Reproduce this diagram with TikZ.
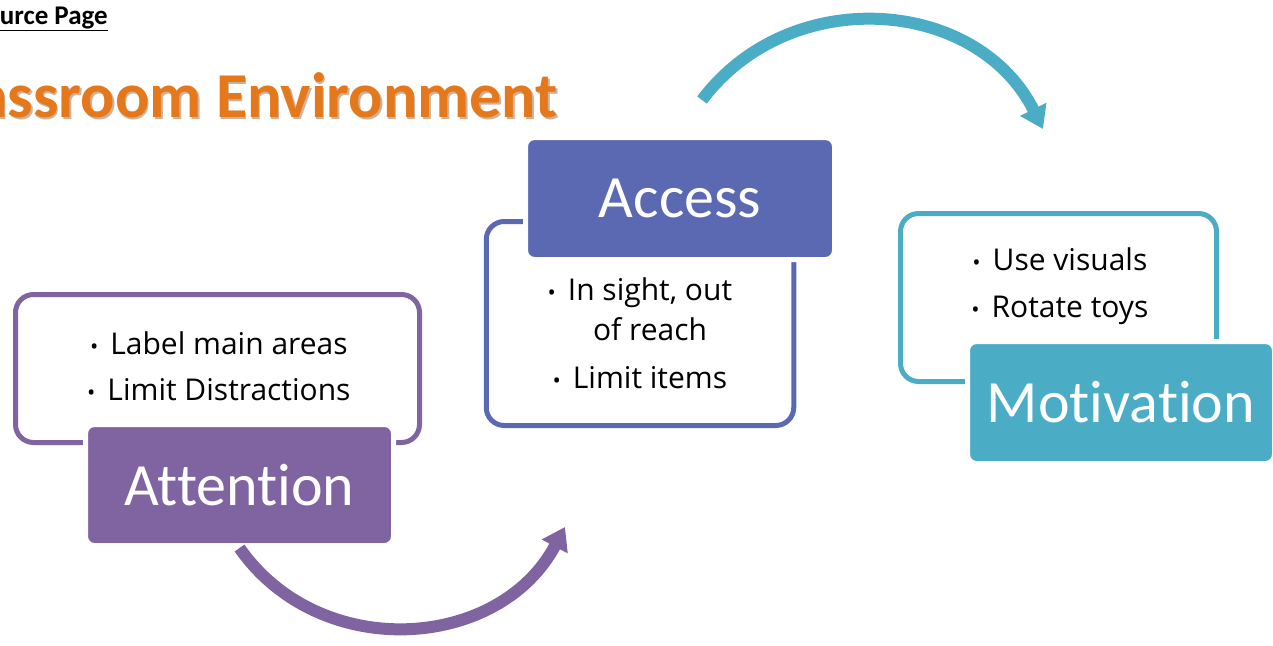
\documentclass[tikz,border=0pt]{standalone}
\usepackage{fontspec}
\setmainfont{Carlito}[Ligatures={NoCommon,NoContextual}]
\newfontfamily\listfont{Open Sans}
\usetikzlibrary{arrows.meta}

\definecolor{attcol}{HTML}{8064A2}
\definecolor{acccol}{HTML}{5B69B3}
\definecolor{motcol}{HTML}{4BACC6}
\definecolor{titlecol}{HTML}{E5781A}

\def\bul{\llap{{\fontsize{22}{22}\selectfont\textbullet}\hspace{12pt}}}

\tikzset{
  listbox/.style={draw=#1, line width=5pt, fill=white, rounded corners=18pt, inner sep=0pt},
  headbox/.style={fill=#1, draw=white, line width=5pt, rounded corners=9pt, text=white,
    inner sep=0pt, font=\fontsize{60}{72}\selectfont},
  listtext/.style={align=center, inner sep=0pt, font=\listfont\fontsize{30}{40}\selectfont},
  cyclearrow/.style={draw=#1, line width=12pt, -{Triangle[width=28pt,length=22pt]}},
  titletext/.style={anchor=base east, inner sep=0pt, font=\bfseries\fontsize{64}{70}\selectfont},
}

\begin{document}
\begin{tikzpicture}[x=1pt,y=1pt]
  %%%%% START %%%%%
  \useasboundingbox (0,0) rectangle (1273,-645);
  \clip (0,0) rectangle (1273,-645);

  % page heading
  \node[anchor=base east, inner sep=0pt, font=\bfseries\fontsize{27}{30}\selectfont] (src) at (108,-24) {\underline{Source Page}};
  \node[titletext, text=titlecol!55!black, opacity=0.4] (titleshadow) at (559.5,-119) {Classroom Environment};
  \node[titletext, text=titlecol] (title) at (558,-117) {Classroom Environment};

  % attention
  \node[listbox=attcol, minimum width=404pt, minimum height=148pt] (attList) at (217.5,-368.5) {};
  \node[listtext] (attText) at (229,-366) {\bul Label main areas\\[6pt]\bul Limit Distractions};
  \node[headbox=attcol, minimum width=308pt, minimum height=121pt] (att) at (239.5,-485) {Attention};

  % access
  \node[listbox=acccol, minimum width=307.5pt, minimum height=204pt] (accList) at (640,-323.5) {};
  \node[listtext] (accText) at (650,-333) {\bul In sight, out\\of reach\\[8pt]\bul Limit items};
  \node[headbox=acccol, minimum width=309pt, minimum height=122pt] (acc) at (680,-198.5) {Access};

  % motivation
  \node[listbox=motcol, minimum width=316pt, minimum height=168pt] (motList) at (1058.5,-297.5) {};
  \node[listtext] (motText) at (1070,-286) {\bul Use visuals\\[7pt]\bul Rotate toys};
  \node[headbox=motcol, minimum width=307pt, minimum height=122pt] (mot) at (1121,-402.5) {Motivation};

  % curved arrows
  \coordinate (attTip) at (565,-527);
  \coordinate (motStart) at (702,-100);
  \coordinate (motTip) at (1043,-129);
  \draw[cyclearrow=attcol] (att.south) to[out=-55, in=242, looseness=1.1] (attTip);
  \draw[cyclearrow=motcol] (motStart) to[out=53, in=116.5, looseness=1.1] (motTip);

  %%%%% END %%%%%
\end{tikzpicture}
\end{document}
